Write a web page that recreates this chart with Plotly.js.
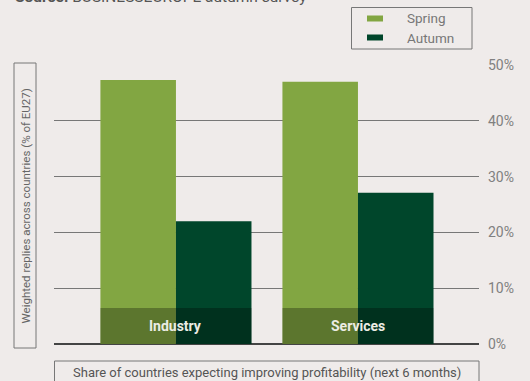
<!DOCTYPE html>
<html>
<head>
<meta charset="utf-8">
<script src="https://cdn.plot.ly/plotly-3.0.1.min.js"></script>
<style>
html,body{margin:0;padding:0;background:#efebea;}
#chart{width:530px;height:381px;}
</style>
</head>
<body>
<div id="chart"></div>
<script>
var categories = ["Industry", "Services"];
var seriesNames = ["Spring", "Autumn"];
var seriesColors = ["#82a642", "#00462b"];
var springValues = [47.3, 47.0];
var autumnValues = [22.0, 27.1];
var tickValues = [0, 10, 20, 30, 40, 50];
var tickLabels = ["0%", "10%", "20%", "30%", "40%", "50%"];
var yTitle = "Weighted replies across countries (% of EU27)";
var xTitle = "Share of countries expecting improving profitability (next 6 months)";
var sourceText = "<b>Source:</b> BUSINESSEUROPE autumn survey";

var W = 530, H = 381;
var mL = 54, mR = 51, mT = 65, mB = 37;
var pw = W - mL - mR, ph = H - mT - mB;
function px(x){ return (x - mL) / pw; }
function py(y){ return (H - mB - y) / ph; }

var font = "Roboto, 'Open Sans', sans-serif";

var traces = [
  {type: "bar", name: seriesNames[0], x: categories, y: springValues,
   marker: {color: seriesColors[0]}, hoverinfo: "none", showlegend: false},
  {type: "bar", name: seriesNames[1], x: categories, y: autumnValues,
   marker: {color: seriesColors[1]}, hoverinfo: "none", showlegend: false}
];

var bandHalf = 0.415;
var bandTop = 6.45;
var shapes = categories.map(function(c, i){
  return {type: "rect", xref: "x", yref: "y", x0: i - bandHalf, x1: i + bandHalf,
          y0: 0, y1: bandTop, fillcolor: "rgba(0,0,0,0.29)", line: {width: 0}, layer: "above"};
});
// y-title box
shapes.push({type: "rect", xref: "paper", yref: "paper", x0: px(14), x1: px(36), y0: py(348), y1: py(63),
             line: {color: "#777", width: 1}, fillcolor: "rgba(0,0,0,0)"});
// x-title box
shapes.push({type: "rect", xref: "paper", yref: "paper", x0: px(54.5), x1: px(479), y0: py(390), y1: py(361),
             line: {color: "#777", width: 1}, fillcolor: "rgba(0,0,0,0)"});
// legend box
shapes.push({type: "rect", xref: "paper", yref: "paper", x0: px(351.5), x1: px(472), y0: py(49), y1: py(7.5),
             line: {color: "#777", width: 1}, fillcolor: "rgba(0,0,0,0)"});
var legendRows = [18.5, 37.5];
seriesNames.forEach(function(n, i){
  shapes.push({type: "rect", xref: "paper", yref: "paper", x0: px(367), x1: px(383),
               y0: py(legendRows[i] + 3), y1: py(legendRows[i] - 3),
               fillcolor: seriesColors[i], line: {width: 0}});
});

var annotations = categories.map(function(c){
  return {x: c, y: bandTop / 2, xref: "x", yref: "y", xanchor: "center", yanchor: "middle",
          text: "<b>" + c + "</b>", showarrow: false,
          font: {family: font, size: 14, color: "#ecece4"}};
});
seriesNames.forEach(function(n, i){
  annotations.push({xref: "paper", yref: "paper", x: px(405), y: py(legendRows[i]), xanchor: "left", yanchor: "middle",
                    text: n, showarrow: false, font: {family: font, size: 13.5, color: "#777"}});
});
annotations.push({xref: "paper", yref: "paper", x: px(25.5), y: py(206), xanchor: "center", yanchor: "middle",
                  text: yTitle, textangle: -90,
                  showarrow: false, font: {family: font, size: 11.5, color: "#666"}});
annotations.push({xref: "paper", yref: "paper", x: px(266.5), y: py(372), xanchor: "center", yanchor: "middle",
                  text: xTitle, showarrow: false, font: {family: font, size: 13, color: "#555"}});
annotations.push({xref: "paper", yref: "paper", x: px(13), y: py(-3), xanchor: "left", yanchor: "middle",
                  text: sourceText, showarrow: false, font: {family: font, size: 15.5, color: "#555"}});

var layout = {
  width: W, height: H,
  margin: {l: mL, r: mR, t: mT, b: mB, autoexpand: false},
  paper_bgcolor: "#efebea", plot_bgcolor: "#efebea",
  barmode: "group", bargap: 0.17, bargroupgap: 0,
  showlegend: false,
  xaxis: {type: "category", range: [-0.67, 1.665], showticklabels: false, showgrid: false,
          zeroline: false, showline: false, ticks: ""},
  yaxis: {range: [0, 50], side: "right", tickvals: tickValues, ticktext: tickLabels,
          showgrid: true, gridcolor: "#777", gridwidth: 1, zeroline: true, zerolinecolor: "#444", zerolinewidth: 1.5,
          showline: false, ticks: "", ticklabelstandoff: 8, automargin: false,
          tickfont: {family: font, size: 14, color: "#808080"}},
  shapes: shapes,
  annotations: annotations
};

Plotly.newPlot("chart", traces, layout, {staticPlot: true});
</script>
</body>
</html>
